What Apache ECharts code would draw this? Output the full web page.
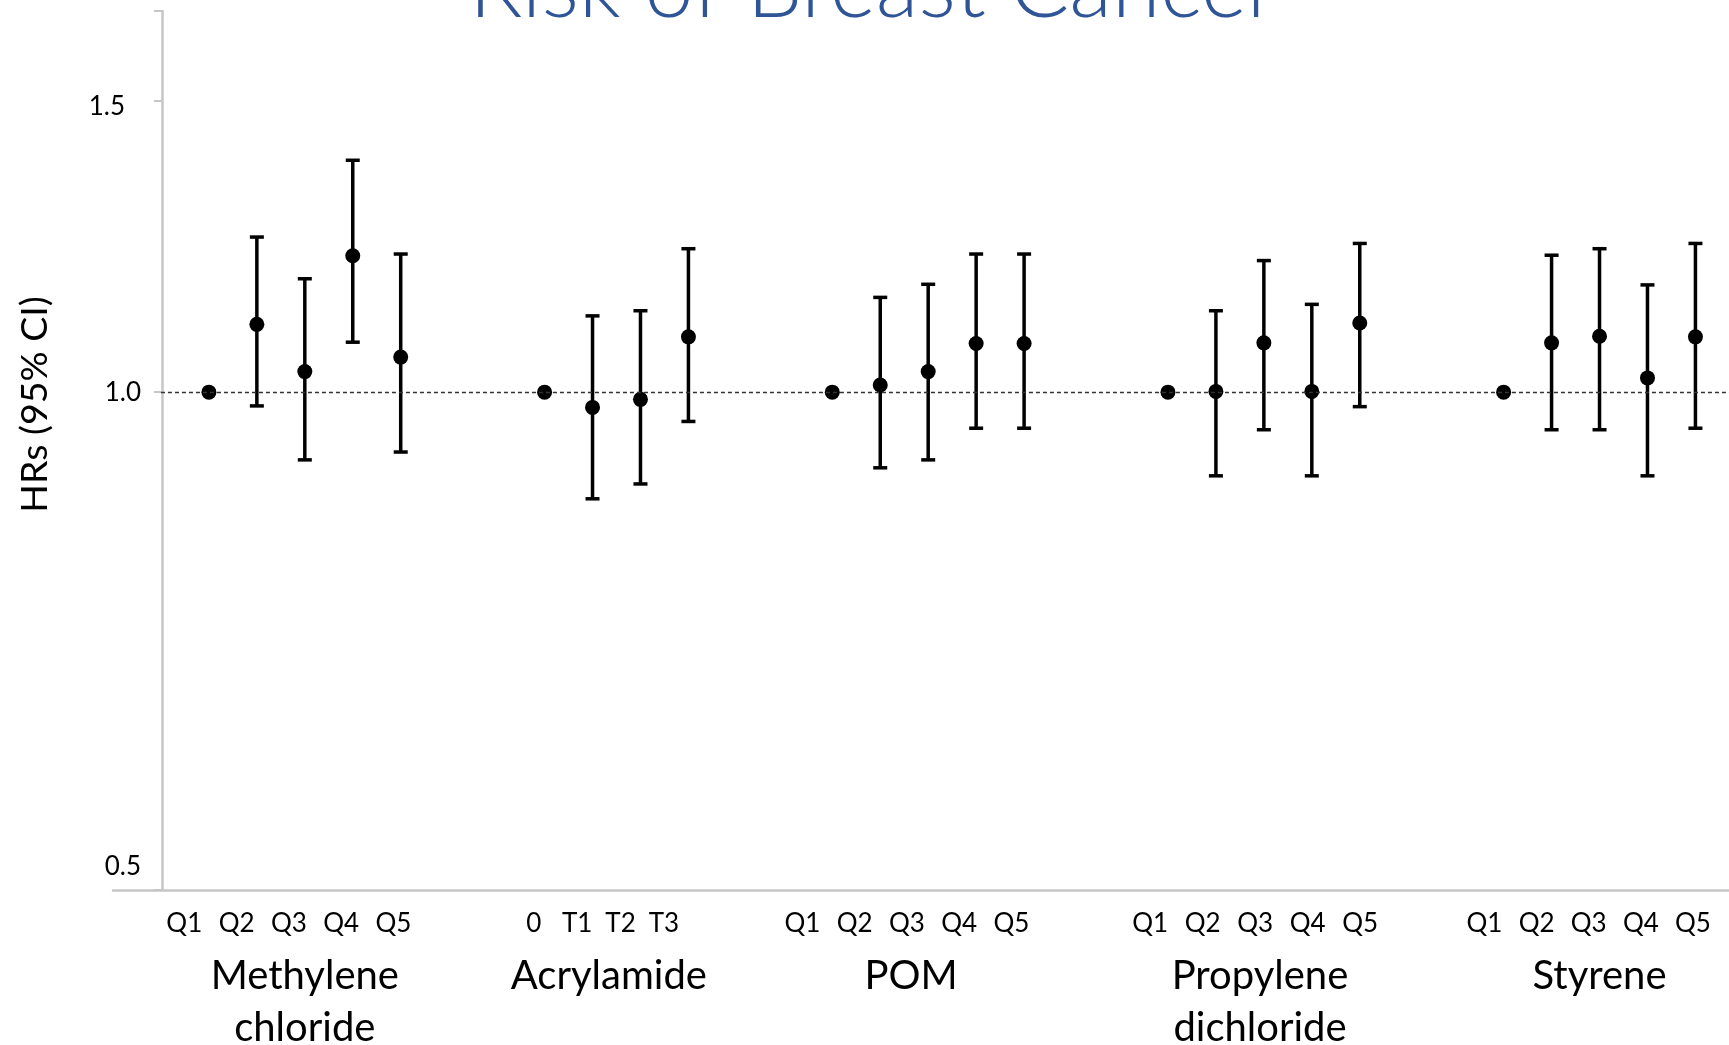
<!DOCTYPE html>
<html>
<head>
    <meta http-equiv="Content-Type" content="text/html; charset=utf-8" />
    <script type="text/javascript" src="https://cdn.jsdelivr.net/npm/echarts@6/dist/echarts.min.js"></script>
    <style type="text/css">
    html, body {
        margin: 0;
        padding: 0;
        background-color: #FFFFFF;
    }

    #chart {
        width: 1729px;
        height: 1045px;
    }
    </style>
</head>

<body>
    <div id="chart"></div>

    <script type="text/javascript">
    // chemicals and their exposure levels
    let groupNames = ['Methylene\nchloride', 'Acrylamide', 'POM', 'Propylene\ndichloride', 'Styrene'];
    let levelLabels = [
        ['Q1', 'Q2', 'Q3', 'Q4', 'Q5'],
        ['0', 'T1', 'T2', 'T3'],
        ['Q1', 'Q2', 'Q3', 'Q4', 'Q5'],
        ['Q1', 'Q2', 'Q3', 'Q4', 'Q5'],
        ['Q1', 'Q2', 'Q3', 'Q4', 'Q5']
    ];
    // hazard ratios, lower / upper 95% CI (reference level has no CI)
    let hrValues = [
        [1.00, 1.099, 1.029, 1.209, 1.050],
        [1.00, 0.979, 0.990, 1.080],
        [1.00, 1.010, 1.029, 1.070, 1.070],
        [1.00, 1.001, 1.071, 1.001, 1.101],
        [1.00, 1.071, 1.081, 1.020, 1.080]
    ];
    let ciLower = [
        [null, 0.981, 0.910, 1.072, 0.920],
        [null, 0.862, 0.880, 0.960],
        [null, 0.900, 0.910, 0.951, 0.951],
        [null, 0.890, 0.949, 0.890, 0.980],
        [null, 0.949, 0.949, 0.890, 0.951]
    ];
    let ciUpper = [
        [null, 1.241, 1.171, 1.381, 1.212],
        [null, 1.112, 1.120, 1.221],
        [null, 1.141, 1.162, 1.212, 1.212],
        [null, 1.120, 1.201, 1.130, 1.230],
        [null, 1.210, 1.221, 1.161, 1.230]
    ];
    let yLabels = [0.5, 1.0, 1.5];
    let yTicks = [0.5, 1.0, 1.5, 1.7];
    let refValue = 1.0;

    // layout of the text rows under the axis (in slot units)
    let gapSlots = 2;
    let labelStep = [1.09, 0.904, 1.09, 1.095, 1.087];
    let labelShift = [-0.333, -0.368, -0.444, -0.182, -0.225];
    let nameShift = [0, -0.16, -0.355, -0.08, 0];

    let points = [];
    let bars = [];
    let tickPos = [], tickText = {};
    let namePos = [], nameText = {};
    let slot = 0;
    for (let g = 0; g < groupNames.length; g++) {
        let n = levelLabels[g].length;
        let mid = (n - 1) / 2;
        for (let k = 0; k < n; k++) {
            points.push([slot + k, hrValues[g][k]]);
            if (ciLower[g][k] !== null) {
                bars.push([slot + k, ciLower[g][k], ciUpper[g][k]]);
            }
            let lp = +(slot + mid + labelShift[g] + (k - mid) * labelStep[g]).toFixed(3);
            tickPos.push(lp);
            tickText[lp.toFixed(3)] = levelLabels[g][k];
        }
        let np = +(slot + mid + nameShift[g]).toFixed(3);
        namePos.push(np);
        nameText[np.toFixed(3)] = groupNames[g];
        slot += n + gapSlots;
    }

    let xMin = -2;
    let xMax = 31.7;
    let axisGray = '#C6C6C6';
    let font = 'Lato, "Open Sans", sans-serif';

    let opt = {
        backgroundColor: '#FFFFFF',
        animation: false,
        title: {
            text: 'Risk of Breast Cancer',
            left: 464,
            top: -60,
            padding: 5,
            textStyle: {
                fontFamily: font,
                fontWeight: 300,
                fontSize: 88,
                color: '#2F5597'
            }
        },
        grid: {
            left: 113,
            right: 0,
            top: 11,
            bottom: 155,
            containLabel: false,
            outerBoundsMode: 'none'
        },
        xAxis: [{
            type: 'value',
            min: xMin,
            max: xMax,
            axisLine: {
                show: true,
                onZero: false,
                lineStyle: { color: axisGray, width: 2.5 }
            },
            axisTick: { show: false },
            splitLine: { show: false },
            axisLabel: {
                customValues: tickPos,
                formatter: function (v) {
                    return tickText[v.toFixed(3)] || '';
                },
                margin: 21,
                fontFamily: font,
                fontSize: 26,
                color: '#000000'
            }
        }, {
            type: 'value',
            min: xMin,
            max: xMax,
            position: 'bottom',
            axisLine: { show: false, onZero: false },
            axisTick: { show: false },
            splitLine: { show: false },
            axisLabel: {
                customValues: namePos,
                formatter: function (v) {
                    return nameText[v.toFixed(3)] || '';
                },
                margin: 60,
                lineHeight: 52,
                fontFamily: font,
                fontSize: 40,
                color: '#000000'
            }
        }],
        yAxis: {
            type: 'log',
            min: 0.5,
            max: 1.7,
            offset: -49,
            axisLine: {
                show: true,
                onZero: false,
                lineStyle: { color: axisGray, width: 2.5 }
            },
            axisTick: {
                show: true,
                customValues: yTicks,
                length: 8,
                lineStyle: { color: axisGray, width: 2 }
            },
            splitLine: { show: false },
            axisLabel: {
                customValues: yLabels,
                margin: 21,
                fontFamily: font,
                fontSize: 26,
                color: '#000000',
                formatter: function (v) {
                    let t = v.toFixed(1);
                    if (t === '1.5') return '{up|' + t + '}';
                    if (t === '0.5') return '{low|' + t + '}';
                    return '{mid|' + t + '}';
                },
                rich: {
                    up: { padding: [12, 16, 0, 0] },
                    low: { padding: [0, 0, 46, 0] },
                    mid: {}
                }
            },
            name: 'HRs (95% CI)',
            nameLocation: 'middle',
            nameGap: 108,
            nameTextStyle: {
                fontFamily: font,
                fontSize: 37.5,
                color: '#000000',
                padding: [0, 0, 0, 92]
            }
        },
        series: [{
            type: 'custom',
            data: bars,
            encode: { x: 0, y: [1, 2] },
            silent: true,
            z: 3,
            renderItem: function (params, api) {
                let xv = api.value(0);
                let lo = api.coord([xv, api.value(1)]);
                let hi = api.coord([xv, api.value(2)]);
                let half = 7;
                let st = { stroke: '#000000', lineWidth: 3.5 };
                return {
                    type: 'group',
                    children: [
                        { type: 'line', shape: { x1: lo[0], y1: lo[1], x2: hi[0], y2: hi[1] }, style: st },
                        { type: 'line', shape: { x1: lo[0] - half, y1: lo[1], x2: lo[0] + half, y2: lo[1] }, style: st },
                        { type: 'line', shape: { x1: hi[0] - half, y1: hi[1], x2: hi[0] + half, y2: hi[1] }, style: st }
                    ]
                };
            }
        }, {
            type: 'scatter',
            data: points,
            symbol: 'circle',
            symbolSize: 15,
            silent: true,
            z: 4,
            itemStyle: { color: '#000000', opacity: 1 },
            markLine: {
                silent: true,
                symbol: 'none',
                label: { show: false },
                lineStyle: { color: '#333333', width: 1.3, type: [4, 3] },
                data: [[{ coord: [-1, refValue] }, { coord: [xMax, refValue] }]]
            }
        }]
    };

    let chart = echarts.init(document.getElementById('chart'));
    chart.setOption(opt);
    </script>
</body>

</html>
